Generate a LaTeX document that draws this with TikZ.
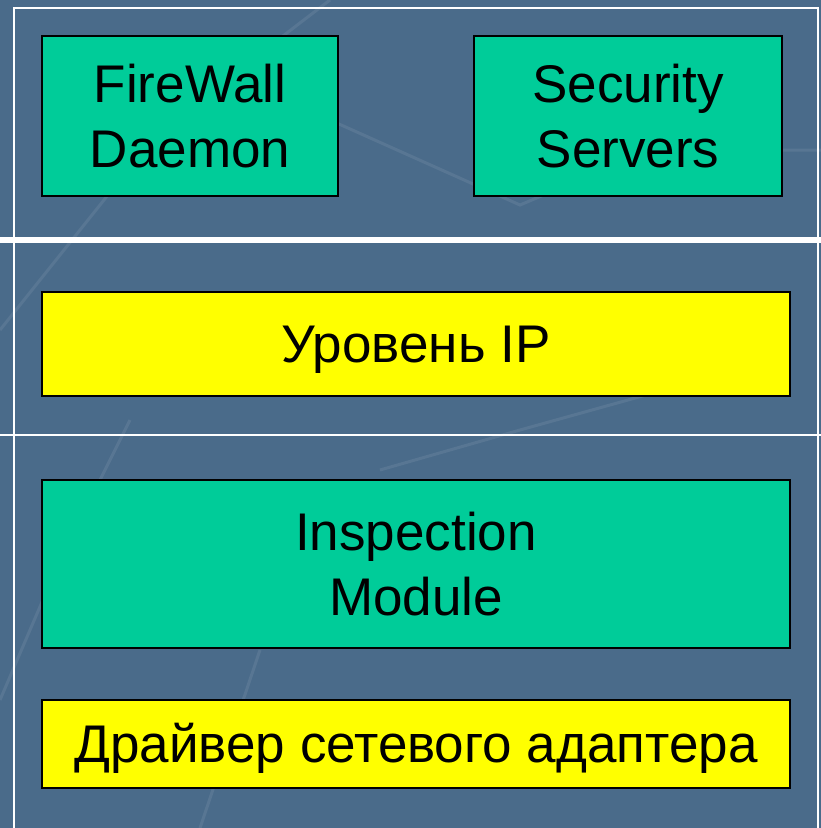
\documentclass[tikz,border=0pt]{standalone}
\usepackage{fontspec}
\setmainfont{Liberation Sans}
\definecolor{slide}{RGB}{74,107,138}
\definecolor{modgreen}{RGB}{0,204,153}
\definecolor{layeryellow}{RGB}{255,255,0}
\tikzset{
  layerbox/.style={draw=black, line width=1.8pt, inner sep=0pt,
    font=\fontsize{53}{65}\selectfont},
  greenbox/.style={layerbox, fill=modgreen, align=center},
  yellowbox/.style={layerbox, fill=layeryellow, text height=38pt, text depth=2pt},
  streak/.style={white, opacity=0.08, line width=3pt}
}

\begin{document}
\begin{tikzpicture}[x=1pt, y=-1pt]
		%%%%% START %%%%%
		
		\fill[slide] (0, 0) rectangle (821, 828);
		\useasboundingbox (0, 0) rectangle (821, 828);
		
		% faint background streaks
		\draw[streak] (0, 330) -- (160, 130) -- (330, 0);
		\draw[streak] (330, 120) -- (520, 205) -- (650, 150) -- (821, 150);
		\draw[streak] (0, 700) -- (60, 560) -- (130, 420);
		\draw[streak] (380, 470) -- (520, 430) -- (700, 380);
		\draw[streak] (200, 828) -- (260, 650);
		
		% frame lines
		\draw[white, line width=2pt] (14, 828) -- (14, 8) -- (818, 8) -- (818, 828);
		\draw[white, line width=6pt] (0, 240) -- (821, 240);
		\draw[white, line width=2pt] (0, 435) -- (821, 435);
		
		% upper level
		\node[greenbox, minimum width=296pt, minimum height=160pt] (fw) at (190, 116) {FireWall\\Daemon};
		\node[greenbox, minimum width=308pt, minimum height=160pt] (ss) at (628, 116) {Security\\Servers};
		
		% IP level
		\node[yellowbox, minimum width=748pt, minimum height=104pt] (ip) at (416, 344) {Уровень IP};
		
		% kernel level
		\node[greenbox, minimum width=748pt, minimum height=168pt] (im) at (416, 564) {Inspection\\Module};
		\node[yellowbox, minimum width=748pt, minimum height=88pt] (drv) at (416, 744) {Драйвер сетевого адаптера};
		
		%%%%% END %%%%%
\end{tikzpicture}
\end{document}
